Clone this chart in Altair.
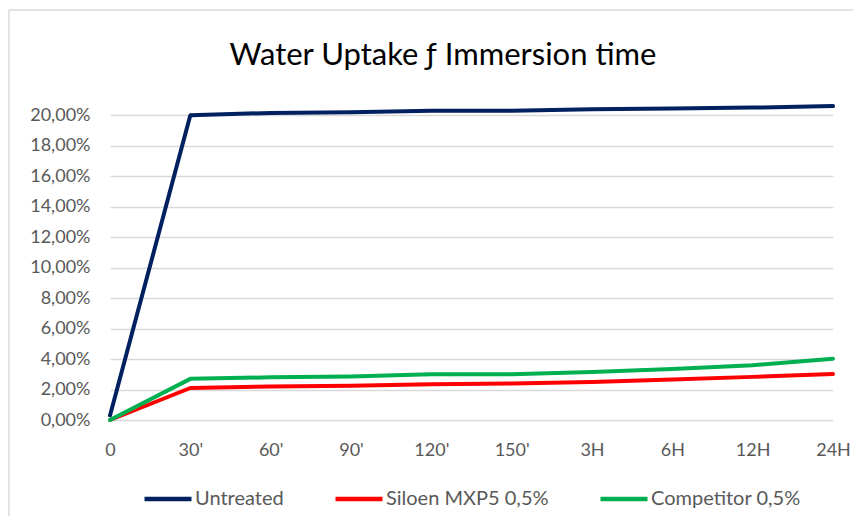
import altair as alt
import pandas as pd

categories = ["0", "30'", "60'", "90'", "120'", "150'", "3H", "6H", "12H", "24H"]
series_names = ["Untreated", "Siloen MXP5 0,5%", "Competitor 0,5%"]
untreated = [0.003, 0.200, 0.2015, 0.202, 0.203, 0.203, 0.204, 0.2045, 0.205, 0.206]
siloen = [0.0, 0.021, 0.022, 0.0225, 0.0235, 0.024, 0.025, 0.0265, 0.0283, 0.0302]
competitor = [0.0, 0.027, 0.028, 0.0285, 0.030, 0.030, 0.0315, 0.0335, 0.036, 0.0402]
y_ticks = [0.0, 0.02, 0.04, 0.06, 0.08, 0.10, 0.12, 0.14, 0.16, 0.18, 0.20]
colors = ["#002060", "#FF0000", "#00B050"]

rows = []
for name, vals in zip(series_names, [untreated, siloen, competitor]):
    for i, (c, v) in enumerate(zip(categories, vals)):
        rows.append({"time": c, "order": i, "series": name, "value": v})
df = pd.DataFrame(rows)

FONT = "Lato"
GREY = "#595959"

lines = alt.Chart(df).mark_line(strokeWidth=4, strokeCap="round", strokeJoin="round").encode(
    x=alt.X("time:N", sort=categories, title=None,
            scale=alt.Scale(type="point", padding=0),
            axis=alt.Axis(labelAngle=0, grid=False, domain=False, ticks=False,
                          labelPadding=21, labelFontSize=18, labelColor=GREY, labelFont=FONT)),
    y=alt.Y("value:Q", title=None,
            scale=alt.Scale(domain=[0, 0.21], nice=False),
            axis=alt.Axis(values=y_ticks, domain=False, ticks=False, gridColor="#D9D9D9",
                          gridWidth=1.3, labelPadding=20, labelFontSize=18, labelColor=GREY,
                          labelFont=FONT,
                          labelExpr="replace(format(datum.value, '.2%'), '.', ',')")),
    color=alt.Color("series:N", scale=alt.Scale(domain=series_names, range=colors),
                    sort=series_names,
                    legend=alt.Legend(title=None, orient="none", direction="horizontal",
                                      legendX=32, legendY=373, symbolType="stroke",
                                      symbolSize=2209, symbolStrokeWidth=4.5,
                                      labelFontSize=20, labelColor=GREY, labelFont=FONT,
                                      labelLimit=400, labelOffset=1, columnPadding=42)),
    order="order:Q",
)

frame_df = pd.DataFrame({"a": [0]})
left_border = alt.Chart(frame_df).mark_rule(color="#D9D9D9", strokeWidth=1.5, clip=False).encode(
    x=alt.value(-101), y=alt.value(-90), y2=alt.value(430))
top_border = alt.Chart(frame_df).mark_rule(color="#D9D9D9", strokeWidth=1.5, clip=False).encode(
    x=alt.value(-101), x2=alt.value(760), y=alt.value(-90))

chart = alt.layer(left_border, top_border, lines).properties(
    width=723, height=320,
    autosize=alt.AutoSizeParams(type="none"),
    padding={"left": 102, "top": 92, "right": 20, "bottom": 96},
    title=alt.TitleParams("Water Uptake ƒ Immersion time", font=FONT, fontSize=31,
                          fontWeight="normal", color="#000000", anchor="middle",
                          frame="group", dx=-28.5, offset=-87, baseline="alphabetic"),
).configure_view(stroke=None)

chart.save("out.html", embed_options={"renderer": "svg", "actions": False})
